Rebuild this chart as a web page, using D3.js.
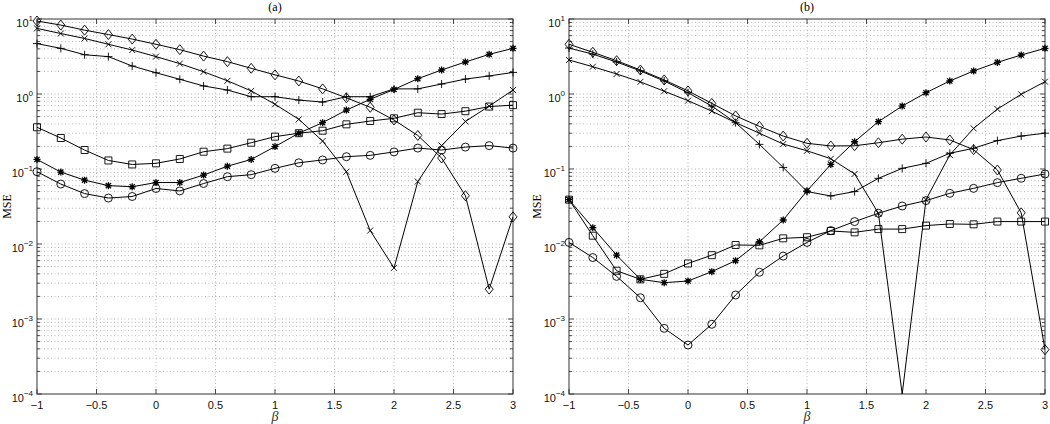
<!DOCTYPE html>
<html>
<head>
<meta charset="utf-8">
<script src="https://cdn.jsdelivr.net/npm/d3@7"></script>
<style>
  body { margin: 0; background: #fff; }
  svg { display: block; }
</style>
</head>
<body>
<script>
// metrics
const width = 1050, height = 424;
const plotTop = 19, plotBottom = 394;

// data
const betas = [-1, -0.8, -0.6, -0.4, -0.2, 0, 0.2, 0.4, 0.6, 0.8, 1, 1.2, 1.4, 1.6, 1.8, 2, 2.2, 2.4, 2.6, 2.8, 3];
const xTicks = [-1, -0.5, 0, 0.5, 1, 1.5, 2, 2.5, 3];
const yExponents = [-4, -3, -2, -1, 0, 1];

// panel (a)
const aDiamond = [9.4, 8.3, 7.1, 6.2, 5.4, 4.6, 3.9, 3.2, 2.7, 2.2, 1.8, 1.49, 1.17, 0.89, 0.665, 0.45, 0.28, 0.14, 0.044, 0.0025, 0.023];
const aCross   = [7.5, 6.4, 5.5, 4.6, 3.86, 3.15, 2.54, 1.98, 1.5, 1.1, 0.73, 0.46, 0.236, 0.092, 0.0151, 0.0048, 0.068, 0.205, 0.43, 0.69, 1.13];
const aPlus    = [4.7, 4.06, 3.34, 3.15, 2.36, 1.92, 1.57, 1.28, 1.13, 0.92, 0.92, 0.83, 0.78, 0.92, 0.92, 1.17, 1.17, 1.36, 1.58, 1.74, 1.94];
const aStar    = [0.134, 0.091, 0.071, 0.06, 0.058, 0.066, 0.066, 0.083, 0.109, 0.134, 0.199, 0.3, 0.415, 0.61, 0.85, 1.15, 1.6, 2.09, 2.67, 3.38, 4.06];
const aSquare  = [0.36, 0.259, 0.179, 0.13, 0.115, 0.119, 0.136, 0.17, 0.187, 0.224, 0.27, 0.3, 0.324, 0.394, 0.436, 0.474, 0.563, 0.54, 0.59, 0.68, 0.71];
const aCircle  = [0.092, 0.063, 0.047, 0.041, 0.043, 0.055, 0.051, 0.064, 0.079, 0.084, 0.102, 0.121, 0.132, 0.146, 0.152, 0.169, 0.19, 0.179, 0.196, 0.205, 0.19];

// panel (b)
const bDiamond = [4.6, 3.6, 2.78, 2.09, 1.54, 1.1, 0.75, 0.51, 0.37, 0.275, 0.22, 0.203, 0.204, 0.224, 0.25, 0.267, 0.244, 0.181, 0.097, 0.026, 0.00039];
const bCross   = [2.84, 2.31, 1.85, 1.45, 1.09, 0.815, 0.59, 0.415, 0.3, 0.215, 0.175, 0.137, 0.086, 0.0257, 0.0001, 0.039, 0.154, 0.348, 0.63, 0.99, 1.46];
const bPlus    = [4.1, 3.4, 2.67, 2.03, 1.49, 1.04, 0.69, 0.415, 0.213, 0.105, 0.05, 0.0437, 0.05, 0.075, 0.102, 0.119, 0.162, 0.189, 0.239, 0.275, 0.3];
const bStar    = [0.039, 0.0165, 0.0071, 0.00338, 0.00305, 0.00321, 0.00428, 0.006, 0.0107, 0.0209, 0.051, 0.115, 0.231, 0.428, 0.69, 1.04, 1.49, 2.03, 2.64, 3.31, 4.06];
const bSquare  = [0.039, 0.0129, 0.0044, 0.00338, 0.004, 0.0055, 0.0071, 0.0097, 0.0096, 0.0119, 0.0123, 0.0149, 0.0143, 0.0158, 0.0158, 0.0176, 0.0185, 0.0183, 0.0199, 0.0199, 0.0199];
const bCircle  = [0.0105, 0.0066, 0.0037, 0.00192, 0.00075, 0.00045, 0.00085, 0.00209, 0.0042, 0.0069, 0.0105, 0.0151, 0.0199, 0.0257, 0.0321, 0.0379, 0.0474, 0.0552, 0.0658, 0.0752, 0.0858];

const panels = [
  { title: '(a)', left: 37, right: 513, labelX: 7,
    series: [['diamond', aDiamond], ['cross', aCross], ['plus', aPlus], ['star', aStar], ['square', aSquare], ['circle', aCircle]] },
  { title: '(b)', left: 569, right: 1045, labelX: 537,
    series: [['diamond', bDiamond], ['cross', bCross], ['plus', bPlus], ['star', bStar], ['square', bSquare], ['circle', bCircle]] }
];

// marker shapes
const markerPath = {
  diamond: 'M0,-5L4,0L0,5L-4,0Z',
  square: 'M-3.5,-3.5H3.5V3.5H-3.5Z',
  circle: 'M4,0A4,4 0 1,1 -4,0A4,4 0 1,1 4,0Z',
  cross: 'M-3,-3L3,3M-3,3L3,-3',
  plus: 'M-4,0H4M0,-4V4',
  star: 'M-3.5,0H3.5M0,-3.5V3.5M-2.6,-2.6L2.6,2.6M-2.6,2.6L2.6,-2.6'
};

// elements
const svg = d3.select('body').append('svg')
    .attr('width', width)
    .attr('height', height)
    .style('font-family', '"Liberation Sans", Arial, sans-serif');

panels.forEach((p, pi) => {
  const xScale = d3.scaleLinear().domain([-1, 3]).range([p.left, p.right]);
  const yScale = d3.scaleLog().domain([1e-4, 10]).range([plotBottom, plotTop]);

  const g = svg.append('g');

  g.append('clipPath').attr('id', 'clip' + pi)
    .append('rect')
    .attr('x', p.left).attr('y', plotTop)
    .attr('width', p.right - p.left).attr('height', plotBottom - plotTop);

  // grid: minor + major on y, major on x
  const minorY = [];
  yExponents.slice(0, -1).forEach(e => {
    for (let k = 2; k <= 9; k++) minorY.push(k * Math.pow(10, e));
  });
  const majorY = yExponents.map(e => Math.pow(10, e));

  g.append('g').selectAll('line')
    .data(minorY.concat(majorY.slice(1, -1)))
    .join('line')
    .attr('x1', p.left).attr('x2', p.right)
    .attr('y1', d => yScale(d)).attr('y2', d => yScale(d))
    .attr('stroke', '#9a9a9a').attr('stroke-width', 0.7)
    .attr('stroke-dasharray', '1,2.5');

  g.append('g').selectAll('line')
    .data(xTicks.slice(1, -1))
    .join('line')
    .attr('x1', d => xScale(d)).attr('x2', d => xScale(d))
    .attr('y1', plotTop).attr('y2', plotBottom)
    .attr('stroke', '#9a9a9a').attr('stroke-width', 0.7)
    .attr('stroke-dasharray', '1,2.5');

  // ticks (inward, all four sides)
  const tickG = g.append('g').attr('stroke', '#222').attr('stroke-width', 0.8);
  xTicks.forEach(t => {
    const x = xScale(t);
    tickG.append('line').attr('x1', x).attr('x2', x).attr('y1', plotBottom).attr('y2', plotBottom - 5);
    tickG.append('line').attr('x1', x).attr('x2', x).attr('y1', plotTop).attr('y2', plotTop + 5);
  });
  majorY.forEach(v => {
    const y = yScale(v);
    tickG.append('line').attr('x1', p.left).attr('x2', p.left + 5).attr('y1', y).attr('y2', y);
    tickG.append('line').attr('x1', p.right).attr('x2', p.right - 5).attr('y1', y).attr('y2', y);
  });
  minorY.forEach(v => {
    const y = yScale(v);
    tickG.append('line').attr('x1', p.left).attr('x2', p.left + 3).attr('y1', y).attr('y2', y);
    tickG.append('line').attr('x1', p.right).attr('x2', p.right - 3).attr('y1', y).attr('y2', y);
  });

  // box
  g.append('rect')
    .attr('x', p.left).attr('y', plotTop)
    .attr('width', p.right - p.left).attr('height', plotBottom - plotTop)
    .attr('fill', 'none').attr('stroke', '#333').attr('stroke-width', 1);

  // tick labels
  g.append('g').selectAll('text')
    .data(xTicks)
    .join('text')
    .attr('x', d => xScale(d)).attr('y', plotBottom + 15)
    .attr('text-anchor', 'middle')
    .attr('font-size', 11)
    .attr('fill', '#111')
    .text(d => d < 0 ? '\u2212' + Math.abs(d) : d);

  const yl = g.append('g').selectAll('text')
    .data(yExponents)
    .join('text')
    .attr('x', p.left - 4).attr('y', d => yScale(Math.pow(10, d)) + 8)
    .attr('text-anchor', 'end')
    .attr('font-size', 11)
    .attr('fill', '#111');
  yl.append('tspan').text('10');
  yl.append('tspan')
    .attr('dy', -6).attr('font-size', 8)
    .text(d => d < 0 ? '\u2212' + Math.abs(d) : d);

  // labels
  const mid = (p.left + p.right) / 2;
  g.append('text')
    .attr('x', mid).attr('y', 11)
    .attr('text-anchor', 'middle')
    .attr('font-family', '"Liberation Serif", "DejaVu Serif", serif')
    .attr('font-size', 12)
    .text(p.title);
  g.append('text')
    .attr('x', mid).attr('y', 421)
    .attr('text-anchor', 'middle')
    .attr('font-family', '"Liberation Serif", "DejaVu Serif", serif')
    .attr('font-style', 'italic')
    .attr('font-size', 14)
    .attr('fill', '#333')
    .text('\u03b2');
  g.append('text')
    .attr('transform', `translate(${p.labelX + 4}, ${(plotTop + plotBottom) / 2}) rotate(-90)`)
    .attr('text-anchor', 'middle')
    .attr('font-family', '"Liberation Serif", "DejaVu Serif", serif')
    .attr('font-size', 12)
    .text('MSE');

  // series
  const line = d3.line()
    .x((d, i) => xScale(betas[i]))
    .y(d => yScale(d));

  const plot = g.append('g').attr('clip-path', `url(#clip${pi})`);
  p.series.forEach(([shape, values]) => {
    plot.append('path')
      .datum(values)
      .attr('d', line)
      .attr('fill', 'none')
      .attr('stroke', '#000')
      .attr('stroke-width', 1);
  });

  p.series.forEach(([shape, values]) => {
    const pts = values.map((v, i) => ({ x: betas[i], y: v })).filter(d => d.y > 1e-4);
    g.append('g').selectAll('path')
      .data(pts)
      .join('path')
      .attr('transform', d => `translate(${xScale(d.x)},${yScale(d.y)})`)
      .attr('d', markerPath[shape])
      .attr('fill', 'none')
      .attr('stroke', '#000')
      .attr('stroke-width', shape === 'star' ? 1.3 : 0.9);
  });
});
</script>
</body>
</html>
